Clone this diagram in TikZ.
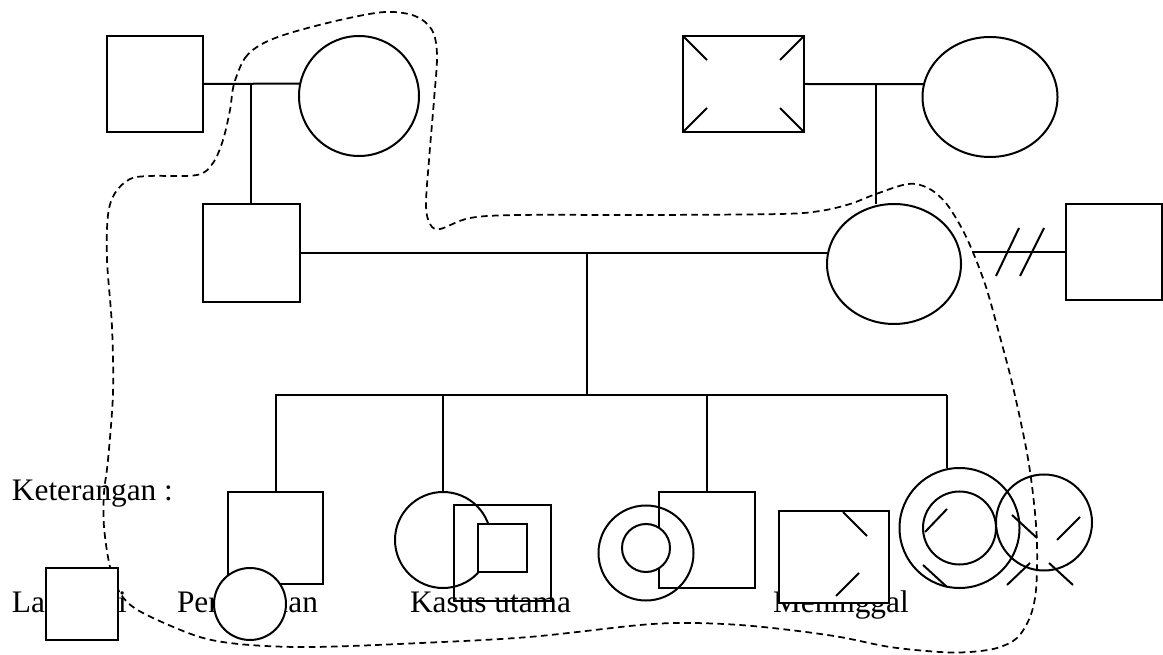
\documentclass[tikz,border=0pt]{standalone}
\usepackage{fontspec}
\setmainfont{Liberation Serif}
\usetikzlibrary{shapes.geometric}
\begin{document}
\begin{tikzpicture}[x=0.75pt,y=-0.75pt, line width=1.5pt,
  sq/.style={draw, rectangle, inner sep=0pt, outer sep=0pt},
  ci/.style={draw, circle, inner sep=0pt, outer sep=0pt},
  el/.style={draw, ellipse, inner sep=0pt, outer sep=0pt},
  lbl/.style={anchor=base west, inner sep=0pt, outer sep=0pt, font=\fontsize{23.5}{28}\selectfont},
  hull/.style={line width=1.3pt, dash pattern=on 5pt off 3.3pt},
  tick/.style={line cap=butt}]
\useasboundingbox (0,0) rectangle (1163,655);

% dashed boundary
\draw[hull] plot[smooth cycle, tension=0.55] coordinates {
 (234,84) (245,58) (262,44) (290,33) (340,20) (385,12) (415,16) (432,30)
 (437,55) (434,100) (429,160) (426,205) (430,224) (440,229) (470,218)
 (520,215) (650,215) (780,214) (820,211) (850,204) (876,194) (908,184)
 (928,188) (945,202) (960,225) (972,250) (986,287) (1000,337) (1013,387)
 (1027,453) (1034,503) (1037,545) (1036,590) (1030,617) (1017,638)
 (997,648) (970,652) (940,652) (890,647) (840,637) (790,630) (740,625)
 (690,623) (640,625) (529,637) (421,643) (314,647) (250,645) (207,639)
 (171,626) (136,609) (120,593) (110,567) (104,527) (104,493) (108,460)
 (113,393) (112,327) (107,260) (108,215) (115,193) (130,179) (150,176)
 (197,175) (213,163) (223,140) (230,110)};

% generation I, left couple
\node[sq, minimum width=72pt, minimum height=72pt] (gp1) at (155,84) {};
\node[ci, minimum size=90pt] (gm1) at (359,96) {};
\draw (gp1.east) -- (gm1.168.5);
\coordinate (m1) at (251,84);
\node[sq, minimum width=72.75pt, minimum height=73.5pt] (fa) at (251,253) {};
\draw (m1) -- (fa.north);

% generation I, right couple
\node[sq, minimum width=90.75pt, minimum height=72pt] (gp2) at (743.5,84) {};
\draw[tick] (gp2.north west) -- ++(24,24);
\draw[tick] (gp2.north east) -- ++(-24,24);
\draw[tick] (gp2.south west) -- ++(24,-24);
\draw[tick] (gp2.south east) -- ++(-24,-24);
\node[el, minimum width=101.25pt, minimum height=90pt] (gm2) at (990,97) {};
\draw (gp2.east) -- (gm2.169);
\coordinate (m2) at (876,84);
\node[el, minimum width=100.5pt, minimum height=90pt] (mo) at (894,264) {};
\draw (m2) -- (m2 |- mo.north);

% generation II
\draw (fa.east) -- (mo.west |- fa.east);
\coordinate (pl) at (972,252);
\node[sq, minimum size=72pt] (rp) at (1114,252) {};
\draw (pl) -- (rp.west);
\draw[tick] (996,276) -- (1019,228);
\draw[tick] (1020,276) -- (1044,228);

% sibship
\coordinate (sib) at (587,253);
\coordinate (sibM) at (587,395);
\coordinate (sibL) at (275,395);
\coordinate (sibR) at (947,395);
\draw (sib) -- (sibM);
\draw (sibL) -- (sibR);

% legend texts
\node[lbl] (ket) at (12,500) {Keterangan :};
\node[lbl] (tl) at (12,612) {Laki-laki};
\node[lbl] (tp) at (177,612) {Perempuan};
\node[lbl] (tk) at (410,612) {Kasus utama};
\node[lbl] (tm) at (773,612) {Meninggal};

% children
\node[sq, minimum width=71.25pt, minimum height=69pt] (c1) at (275.5,538) {};
\draw (c1.north |- sibL) -- (c1.north);

\node[ci, minimum size=72pt] (c2) at (443,540) {};
\draw (c2.north |- sibL) -- (c2.north);
\node[sq, minimum width=72.75pt, minimum height=72pt] (ku) at (502.5,553) {};
\node[sq, fill=white, minimum width=36.75pt, minimum height=36pt] (kui) at (502.5,548) {};

\node[sq, minimum size=72pt] (c3) at (707,540) {};
\draw (c3.north |- sibL) -- (c3.north);
\node[ci, minimum size=71.25pt] (c3o) at (646,553) {};
\node[ci, fill=white, minimum size=36pt] (c3i) at (646,548) {};

\node[ci, minimum size=90pt] (c4o) at (959.5,528) {};
\node[ci, minimum size=54.75pt] (c4i) at (959.5,528) {};
\draw (sibR) -- (sibR |- c4o.north);
\draw[tick] (925,532) -- (947,509);
\draw[tick] (923,565) -- (947,587);
\node[ci, minimum size=72pt] (c4r) at (1044,522.5) {};
\draw[tick] (1012,515) -- (1037,538);
\draw[tick] (1057,540) -- (1080,517);
\draw[tick] (1007,585) -- (1030,563);
\draw[tick] (1049,563) -- (1073,585);

% legend symbols
\node[sq, fill=white, minimum size=54pt] (lL) at (82,604) {};
\node[ci, fill=white, minimum size=54pt] (lP) at (250,604) {};
\node[sq, fill=white, minimum width=82.5pt, minimum height=69pt] (lM) at (834,557) {};
\draw[tick] (843,512) -- (867,536);
\draw[tick] (836,596) -- (859,573);
\end{tikzpicture}
\end{document}
